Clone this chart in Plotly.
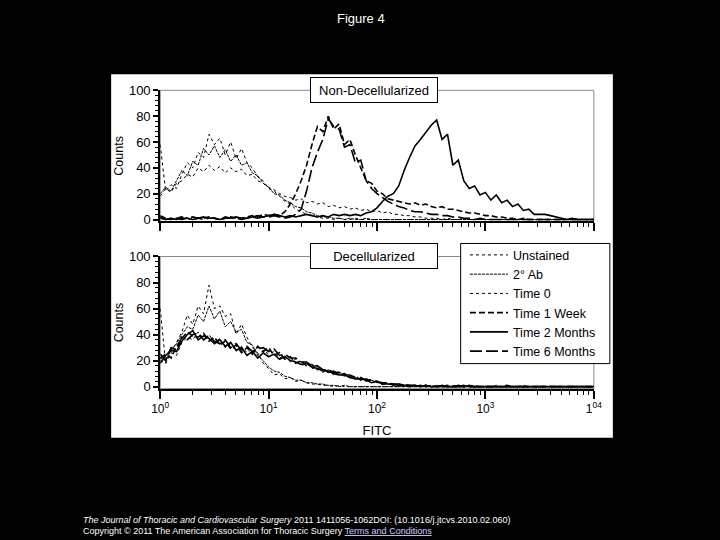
import plotly.graph_objects as go

# ---------------- data ----------------
FITC_EXP = [0.00, 0.05, 0.10, 0.15, 0.20, 0.25, 0.30, 0.35, 0.40, 0.45,
            0.50, 0.55, 0.60, 0.65, 0.70, 0.75, 0.80, 0.85, 0.90, 0.95,
            1.00, 1.05, 1.10, 1.15, 1.20, 1.25, 1.30, 1.35, 1.40, 1.45,
            1.50, 1.55, 1.60, 1.65, 1.70, 1.75, 1.80, 1.85, 1.90, 1.95,
            2.00, 2.05, 2.10, 2.15, 2.20, 2.25, 2.30, 2.35, 2.40, 2.45,
            2.50, 2.55, 2.60, 2.65, 2.70, 2.75, 2.80, 2.85, 2.90, 2.95,
            3.00, 3.05, 3.10, 3.15, 3.20, 3.25, 3.30, 3.35, 3.40, 3.45,
            3.50, 3.55, 3.60, 3.65, 3.70, 3.75, 3.80, 3.85, 3.90, 3.95,
            4.00]

SERIES = ["Unstained", "2° Ab", "Time 0", "Time 1 Week", "Time 2 Months", "Time 6 Months"]

top_unstained = [58, 22, 27, 24, 35, 44, 40, 52, 48, 66,
                 58, 63, 50, 60, 47, 55, 44, 40, 33, 30,
                 24, 22, 18, 14, 12, 8, 6, 4, 3, 2,
                 1, 1, 0, 1, 0, 0, 1, 0, 0, 0,
                 0, 0, 0, 0, 0, 0, 0, 0, 0, 0,
                 0, 0, 0, 0, 0, 0, 0, 0, 0, 0,
                 0, 0, 0, 0, 0, 0, 0, 0, 0, 0,
                 0, 0, 0, 0, 0, 0, 0, 0, 0, 0,
                 0]
top_2ab = [20, 25, 22, 30, 38, 34, 45, 42, 55, 50,
           57, 48, 54, 45, 50, 42, 44, 36, 34, 28,
           25, 20, 19, 15, 13, 10, 9, 6, 5, 3,
           2, 2, 1, 1, 0, 1, 0, 0, 1, 0,
           0, 0, 0, 0, 0, 0, 0, 0, 0, 0,
           0, 0, 0, 0, 0, 0, 0, 0, 0, 0,
           0, 0, 0, 0, 0, 0, 0, 0, 0, 0,
           0, 0, 0, 0, 0, 0, 0, 0, 0, 0,
           0]
top_t0 = [18, 24, 21, 28, 30, 35, 33, 40, 37, 42,
          38, 41, 36, 40, 37, 39, 34, 35, 30, 28,
          25, 23, 20, 18, 17, 15, 16, 13, 14, 12,
          13, 10, 11, 9, 10, 8, 9, 7, 8, 6,
          7, 5, 6, 4, 4, 3, 3, 2, 2, 1,
          1, 1, 0, 1, 0, 0, 1, 0, 0, 0,
          0, 0, 0, 0, 0, 0, 0, 0, 0, 0,
          0, 0, 0, 0, 0, 0, 0, 0, 0, 0,
          0]
top_1wk = [3, 1, 0, 1, 2, 1, 0, 1, 1, 2,
           1, 0, 1, 2, 1, 1, 2, 3, 2, 4,
           3, 4, 3, 6, 12, 20, 30, 42, 58, 72,
           68, 80, 70, 74, 58, 62, 50, 40, 30, 28,
           22, 20, 16, 15, 14, 13, 12, 13, 11, 12,
           10, 9, 10, 8, 8, 7, 6, 5, 5, 4,
           3, 3, 2, 2, 1, 1, 0, 1, 0, 0,
           0, 0, 0, 0, 0, 0, 0, 0, 0, 0,
           0]
top_2mo = [1, 0, 1, 0, 1, 1, 0, 1, 2, 1,
           1, 0, 1, 1, 2, 1, 1, 2, 3, 2,
           3, 4, 3, 2, 3, 2, 3, 4, 3, 2,
           3, 2, 4, 3, 4, 3, 4, 3, 5, 6,
           9, 14, 18, 20, 26, 38, 48, 57, 62, 68,
           73, 77, 62, 66, 42, 46, 30, 24, 26, 19,
           21, 15, 19, 13, 15, 10, 12, 7, 8, 4,
           4, 4, 3, 2, 1, 0, 1, 0, 0, 0,
           0]
top_6mo = [2, 0, 1, 1, 0, 1, 2, 1, 0, 1,
           1, 0, 2, 1, 1, 0, 1, 2, 1, 2,
           2, 3, 2, 1, 2, 4, 8, 22, 40, 52,
           62, 78, 72, 70, 56, 58, 44, 46, 30, 24,
           20, 17, 14, 12, 10, 9, 7, 6, 6, 5,
           4, 4, 3, 3, 2, 2, 1, 1, 0, 1,
           0, 0, 0, 0, 0, 0, 0, 0, 0, 0,
           0, 0, 0, 0, 0, 0, 0, 0, 0, 0,
           0]

bot_unstained = [20, 18, 26, 34, 42, 55, 48, 62, 56, 78,
                 60, 62, 54, 56, 40, 48, 38, 30, 26, 18,
                 14, 9, 10, 6, 7, 4, 5, 3, 2, 2,
                 1, 1, 0, 1, 0, 0, 0, 0, 0, 0,
                 0, 0, 0, 0, 0, 0, 0, 0, 0, 0,
                 0, 0, 0, 0, 0, 0, 0, 0, 0, 0,
                 0, 0, 0, 0, 0, 0, 0, 0, 0, 0,
                 0, 0, 0, 0, 0, 0, 0, 0, 0, 0,
                 0]
bot_2ab = [22, 20, 28, 33, 40, 46, 44, 55, 50, 62,
           52, 58, 46, 50, 42, 44, 34, 32, 24, 20,
           15, 12, 11, 8, 7, 5, 5, 3, 3, 2,
           2, 1, 1, 0, 1, 0, 0, 0, 0, 0,
           0, 0, 0, 0, 0, 0, 0, 0, 0, 0,
           0, 0, 0, 0, 0, 0, 0, 0, 0, 0,
           0, 0, 0, 0, 0, 0, 0, 0, 0, 0,
           0, 0, 0, 0, 0, 0, 0, 0, 0, 0,
           0]
bot_t0 = [60, 18, 26, 24, 34, 38, 36, 42, 37, 40,
          34, 37, 30, 33, 27, 31, 26, 29, 24, 28,
          25, 27, 22, 24, 19, 21, 16, 18, 14, 15,
          11, 13, 9, 10, 8, 8, 6, 6, 4, 5,
          3, 3, 2, 2, 1, 2, 1, 1, 0, 1,
          0, 1, 0, 0, 1, 0, 0, 0, 1, 0,
          0, 0, 1, 0, 0, 0, 0, 1, 0, 0,
          0, 0, 0, 0, 0, 0, 0, 0, 0, 0,
          0]
bot_1wk = [22, 25, 22, 31, 37, 42, 39, 38, 41, 35,
           38, 32, 35, 29, 32, 26, 30, 25, 31, 27,
           30, 24, 26, 21, 23, 18, 20, 16, 17, 13,
           14, 11, 12, 9, 10, 7, 8, 5, 6, 4,
           4, 2, 3, 1, 2, 1, 1, 0, 1, 0,
           1, 0, 0, 1, 0, 0, 1, 0, 0, 0,
           0, 0, 0, 0, 1, 0, 0, 0, 0, 0,
           0, 0, 0, 0, 0, 0, 0, 0, 0, 0,
           0]
bot_2mo = [18, 24, 28, 27, 35, 40, 43, 36, 39, 37,
           33, 36, 31, 34, 28, 30, 24, 27, 22, 26,
           23, 25, 21, 23, 20, 19, 17, 18, 15, 14,
           12, 12, 10, 9, 9, 7, 6, 6, 5, 3,
           4, 2, 2, 2, 1, 1, 0, 1, 0, 1,
           0, 0, 1, 0, 0, 0, 0, 1, 0, 0,
           0, 0, 0, 0, 0, 0, 0, 0, 0, 0,
           0, 0, 0, 0, 0, 0, 0, 0, 0, 0,
           0]
bot_6mo = [25, 20, 30, 28, 38, 36, 40, 41, 36, 39,
           35, 33, 36, 30, 33, 28, 31, 27, 29, 30,
           27, 29, 24, 25, 22, 22, 19, 19, 16, 16,
           13, 13, 11, 11, 9, 9, 7, 7, 5, 5,
           4, 3, 3, 2, 2, 1, 1, 1, 0, 1,
           0, 1, 0, 0, 0, 1, 0, 0, 0, 0,
           0, 0, 0, 0, 0, 0, 0, 0, 0, 0,
           0, 0, 0, 0, 0, 0, 0, 0, 0, 0,
           0]

TOP = [top_unstained, top_2ab, top_t0, top_1wk, top_2mo, top_6mo]
BOT = [bot_unstained, bot_2ab, bot_t0, bot_1wk, bot_2mo, bot_6mo]

X_TICKVALS = [1, 10, 100, 1000, 10000]
X_TICKTEXT = ["10<sup>0</sup>", "10<sup>1</sup>", "10<sup>2</sup>", "10<sup>3</sup>", "1<sup>04</sup>"]
Y_TICKVALS = [0, 20, 40, 60, 80, 100]

STYLES = [
    dict(dash="dot", width=1.0),
    dict(dash="3px,1px", width=1.0),
    dict(dash="3px,3px", width=1.0),
    dict(dash="6px,3px", width=1.6),
    dict(dash="solid", width=1.6),
    dict(dash="12px,4px", width=1.6),
]

fitc = [10 ** e for e in FITC_EXP]

fig = go.Figure()
for name, ys, st in zip(SERIES, TOP, STYLES):
    fig.add_trace(go.Scatter(x=fitc, y=ys, mode="lines", name=name,
                             line=dict(color="black", **st),
                             xaxis="x", yaxis="y", showlegend=False))
for name, ys, st in zip(SERIES, BOT, STYLES):
    fig.add_trace(go.Scatter(x=fitc, y=ys, mode="lines", name=name,
                             line=dict(color="black", **st),
                             xaxis="x2", yaxis="y2", showlegend=True))

W, H = 720, 540
S = 0.975  # the photographed page appears slightly shrunk about its centre


def px(x):
    return (360 + (x - 360) / S) / W


def py(y):
    return 1 - (270 + (y - 270) / S) / H


XD = [px(160), px(593)]
TOP_D = [py(221), py(90)]
BOT_D = [py(388), py(256)]

minor_vals = [m * 10 ** d for d in range(4) for m in range(2, 10)]

xcommon = dict(type="log", range=[0, 4], domain=XD, showline=True, linecolor="black",
               linewidth=2, ticks="outside", ticklen=8, tickwidth=1.5, tickcolor="black",
               tickmode="array", tickvals=X_TICKVALS, showgrid=False, zeroline=False,
               minor=dict(ticks="outside", ticklen=4, tickwidth=1, tickcolor="black",
                          tickmode="array", tickvals=minor_vals, showgrid=False))
ycommon = dict(range=[-1.5, 100], showline=True, linecolor="black", linewidth=2,
               ticks="outside", ticklen=5, tickwidth=1.5, tickcolor="black",
               tickmode="array", tickvals=Y_TICKVALS, showgrid=False, zeroline=False,
               tickfont=dict(size=13),
               minor=dict(ticks="outside", ticklen=3, tickwidth=1, tickcolor="black",
                          dtick=4, showgrid=False),
               title=dict(text="Counts", font=dict(size=12.5), standoff=3))

fig.update_layout(
    width=W, height=H,
    margin=dict(l=0, r=0, t=0, b=0),
    paper_bgcolor="black", plot_bgcolor="white",
    font=dict(family="Arial, Liberation Sans, sans-serif", color="black", size=13),
    xaxis=dict(anchor="y", showticklabels=False, **xcommon),
    yaxis=dict(anchor="x", domain=TOP_D, **ycommon),
    xaxis2=dict(anchor="y2", showticklabels=True, ticktext=X_TICKTEXT,
                tickfont=dict(size=12),
                title=dict(text="FITC", font=dict(size=13), standoff=11), **xcommon),
    yaxis2=dict(anchor="x2", domain=BOT_D, **ycommon),
    legend=dict(x=px(464.3), y=py(239.8), xanchor="left", yanchor="top",
                bgcolor="rgba(0,0,0,0)", borderwidth=0, itemwidth=38,
                font=dict(size=12.5), tracegroupgap=0, traceorder="normal"),
    shapes=[
        dict(type="rect", xref="paper", yref="paper", x0=px(111), x1=px(612),
             y0=py(437), y1=py(74), fillcolor="white", line=dict(width=0), layer="below"),
        dict(type="rect", xref="paper", yref="paper", x0=XD[0], x1=XD[1],
             y0=TOP_D[0], y1=TOP_D[1], line=dict(color="#888888", width=1), layer="below"),
        dict(type="rect", xref="paper", yref="paper", x0=XD[0], x1=XD[1],
             y0=BOT_D[0], y1=BOT_D[1], line=dict(color="#888888", width=1), layer="below"),
        dict(type="rect", xref="paper", yref="paper", x0=px(460), x1=px(609),
             y0=py(363), y1=py(243), fillcolor="white",
             line=dict(color="black", width=1), layer="above"),
    ],
    annotations=[
        dict(text="Non-Decellularized", xref="paper", yref="paper", x=px(373), y=py(90),
             xanchor="center", yanchor="middle", showarrow=False, bgcolor="white",
             bordercolor="black", borderwidth=1, borderpad=4, width=118, height=16,
             font=dict(size=13)),
        dict(text="Decellularized", xref="paper", yref="paper", x=px(373), y=py(256),
             xanchor="center", yanchor="middle", showarrow=False, bgcolor="white",
             bordercolor="black", borderwidth=1, borderpad=4, width=118, height=16,
             font=dict(size=13)),
        dict(text="Figure 4", xref="paper", yref="paper", x=0.5, y=py(18),
             xanchor="center", yanchor="middle", showarrow=False,
             font=dict(size=13, color="white")),
        dict(text="<i>The Journal of Thoracic and Cardiovascular Surgery</i> 2011 1411056-1062DOI: (10.1016/j.jtcvs.2010.02.060)",
             xref="paper", yref="paper", x=px(81), y=1 - 526 / H, xanchor="left", yanchor="middle",
             showarrow=False, font=dict(size=9, color="white")),
        dict(text="Copyright © 2011 The American Association for Thoracic Surgery <span style='color:#d0d0ff'><u>Terms and Conditions</u></span>",
             xref="paper", yref="paper", x=px(81), y=1 - 536.5 / H, xanchor="left", yanchor="middle",
             showarrow=False, font=dict(size=9, color="white")),
    ],
)

fig.write_html(
    "out.html",
    config={"displayModeBar": False},
    post_script="document.body.style.margin='0px';document.body.style.backgroundColor='black';",
)
